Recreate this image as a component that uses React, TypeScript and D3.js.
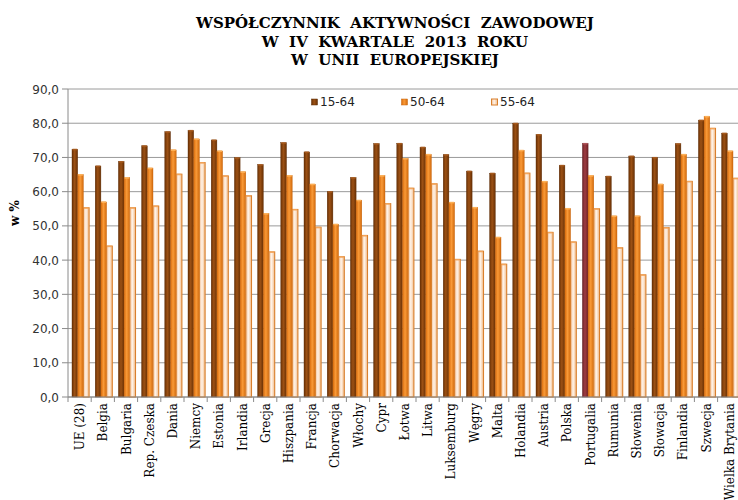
import * as d3 from "d3";

const categories = [
  "UE (28)", "Belgia", "Bulgaria", "Rep. Czeska", "Dania", "Niemcy", "Estonia",
  "Irlandia", "Grecja", "Hiszpania", "Francja", "Chorwacja", "Włochy", "Cypr",
  "Łotwa", "Litwa", "Luksemburg", "Węgry", "Malta", "Holandia", "Austria",
  "Polska", "Portugalia", "Rumunia", "Słowenia", "Słowacja", "Finlandia",
  "Szwecja", "Wielka Brytania",
];

const age1564 = [
  72.4, 67.5, 68.8, 73.4, 77.5, 77.9, 75.1, 69.9, 67.9, 74.3, 71.6, 60.0, 64.1,
  74.0, 74.1, 73.0, 70.8, 66.0, 65.4, 80.0, 76.7, 67.7, 74.1, 64.5, 70.4, 70.0,
  74.0, 80.9, 77.1,
];
const age5064 = [
  65.0, 57.0, 64.1, 66.9, 72.2, 75.4, 71.9, 65.8, 53.6, 64.7, 62.2, 50.5, 57.5,
  64.7, 69.7, 70.9, 56.9, 55.4, 46.7, 72.1, 63.0, 55.1, 64.7, 52.9, 52.9, 62.2,
  70.9, 82.0, 71.9,
];
const age5564 = [
  55.3, 44.1, 55.3, 55.8, 65.1, 68.5, 64.6, 58.8, 42.4, 54.8, 49.6, 41.0, 47.2,
  56.5, 61.0, 62.3, 40.2, 42.6, 38.8, 65.4, 48.1, 45.3, 55.0, 43.6, 35.7, 49.5,
  63.0, 78.5, 63.9,
];

const seriesNames = ["15-64", "50-64", "55-64"];
const yTicks = [0, 10, 20, 30, 40, 50, 60, 70, 80, 90];
const titleLines = [
  "WSPÓŁCZYNNIK  AKTYWNOŚCI  ZAWODOWEJ",
  "W  IV  KWARTALE  2013  ROKU",
  "W  UNII  EUROPEJSKIEJ",
];
const highlight = "Portugalia";

const W = 738;
const H = 500;
const left = 68;
const top = 89;
const bottom = 397;
const bandW = 23.2;

export default function App() {
  const x = d3
    .scaleBand<string>()
    .domain(categories)
    .range([left, left + bandW * categories.length])
    .paddingInner(0)
    .paddingOuter(0);
  const y = d3.scaleLinear().domain([0, 90]).range([bottom, top]);
  const fmt = (v: number) => d3.format(".1f")(v).replace(".", ",");

  const series = [age1564, age5064, age5564];
  const barW = 5.7;
  const offset = 4;
  const grads = ["gDark", "gOrange", "gLight"];
  const strokes = ["#5e2c06", "#c8660f", "#d9802e"];
  const caps = ["#a85a1c", "#ffb45a", "#f5a860"];

  return (
    <svg
      width={W}
      height={H}
      style={{ position: "absolute", left: 0, top: 0, background: "#fff" }}
    >
      <defs>
        <linearGradient id="gDark" x1="0" x2="1" y1="0" y2="0">
          <stop offset="0" stopColor="#6a3104" />
          <stop offset="0.45" stopColor="#9c5115" />
          <stop offset="1" stopColor="#6a3104" />
        </linearGradient>
        <linearGradient id="gOrange" x1="0" x2="1" y1="0" y2="0">
          <stop offset="0" stopColor="#d96c0c" />
          <stop offset="0.45" stopColor="#f99a38" />
          <stop offset="1" stopColor="#d26a0c" />
        </linearGradient>
        <linearGradient id="gLight" x1="0" x2="1" y1="0" y2="0">
          <stop offset="0" stopColor="#f2c096" />
          <stop offset="0.45" stopColor="#fff3e8" />
          <stop offset="1" stopColor="#f0bb8a" />
        </linearGradient>
        <linearGradient id="gRed" x1="0" x2="1" y1="0" y2="0">
          <stop offset="0" stopColor="#6e2226" />
          <stop offset="0.45" stopColor="#9e3d43" />
          <stop offset="1" stopColor="#6e2226" />
        </linearGradient>
      </defs>

      {titleLines.map((t, i) => (
        <text
          key={t}
          x={395}
          y={28 + i * 18.5}
          textAnchor="middle"
          fontFamily="'DejaVu Serif', serif"
          fontWeight="bold"
          fontSize={15}
          fill="#000"
          style={{ whiteSpace: "pre" }}
        >
          {t}
        </text>
      ))}

      {/* grid + y axis */}
      {yTicks.map((t) => (
        <g key={t}>
          <line x1={left} x2={W + 5} y1={y(t)} y2={y(t)} stroke="#9a9a9a" strokeWidth={1} />
          <line x1={left - 6} x2={left} y1={y(t)} y2={y(t)} stroke="#8a8a8a" />
          <text
            x={left - 9}
            y={y(t) + 4.5}
            textAnchor="end"
            fontFamily="'DejaVu Sans', sans-serif"
            fontSize={12}
            fill="#333"
          >
            {fmt(t)}
          </text>
        </g>
      ))}
      <line x1={left} x2={left} y1={top} y2={bottom} stroke="#8a8a8a" />

      {/* bars */}
      {categories.map((c, ci) => (
        <g key={c}>
          {series.map((s, si) => {
            const bx = (x(c) ?? 0) + offset + si * barW;
            const by = y(s[ci]);
            const isHi = c === highlight && si === 0;
            return (
              <g key={si}>
                <rect
                  x={bx}
                  y={by}
                  width={barW}
                  height={bottom - by}
                  fill={`url(#${isHi ? "gRed" : grads[si]})`}
                  stroke={isHi ? "#5a1a1e" : strokes[si]}
                  strokeWidth={si === 2 ? 1.1 : 0.4}
                />
                <rect
                  x={bx + 0.5}
                  y={by - 0.5}
                  width={barW - 1}
                  height={1.6}
                  fill={isHi ? "#b0545a" : caps[si]}
                  opacity={0.9}
                />
              </g>
            );
          })}
        </g>
      ))}

      {/* x axis */}
      <line x1={left} x2={W + 5} y1={bottom} y2={bottom} stroke="#8a8a8a" />
      {categories.map((c) => (
        <line
          key={"t" + c}
          x1={x(c) ?? 0}
          x2={x(c) ?? 0}
          y1={bottom}
          y2={bottom + 5}
          stroke="#8a8a8a"
        />
      ))}
      {categories.map((c) => {
        const cx = (x(c) ?? 0) + x.bandwidth() / 2 + 4.5;
        return (
          <text
            key={"l" + c}
            transform={`translate(${cx},${bottom + 6}) rotate(-90)`}
            textAnchor="end"
            fontFamily="'DejaVu Serif', serif"
            fontSize={12}
            fill="#000"
          >
            {c}
          </text>
        );
      })}

      {/* y label */}
      <text
        transform={`translate(19,213) rotate(-90)`}
        textAnchor="middle"
        fontFamily="'DejaVu Serif', serif"
        fontWeight="bold"
        fontSize={12}
        fill="#000"
      >
        w %
      </text>

      {/* legend */}
      {seriesNames.map((n, i) => {
        const lx = [311.5, 401.5, 491.5][i];
        return (
          <g key={n}>
            <rect
              x={lx}
              y={99}
              width={6}
              height={6}
              fill={`url(#${grads[i]})`}
              stroke={strokes[i]}
              strokeWidth={i === 2 ? 1 : 0.5}
            />
            <text
              x={lx + 8.5}
              y={106}
              fontFamily="'DejaVu Sans', sans-serif"
              fontSize={12}
              fill="#222"
            >
              {n}
            </text>
          </g>
        );
      })}
    </svg>
  );
}
